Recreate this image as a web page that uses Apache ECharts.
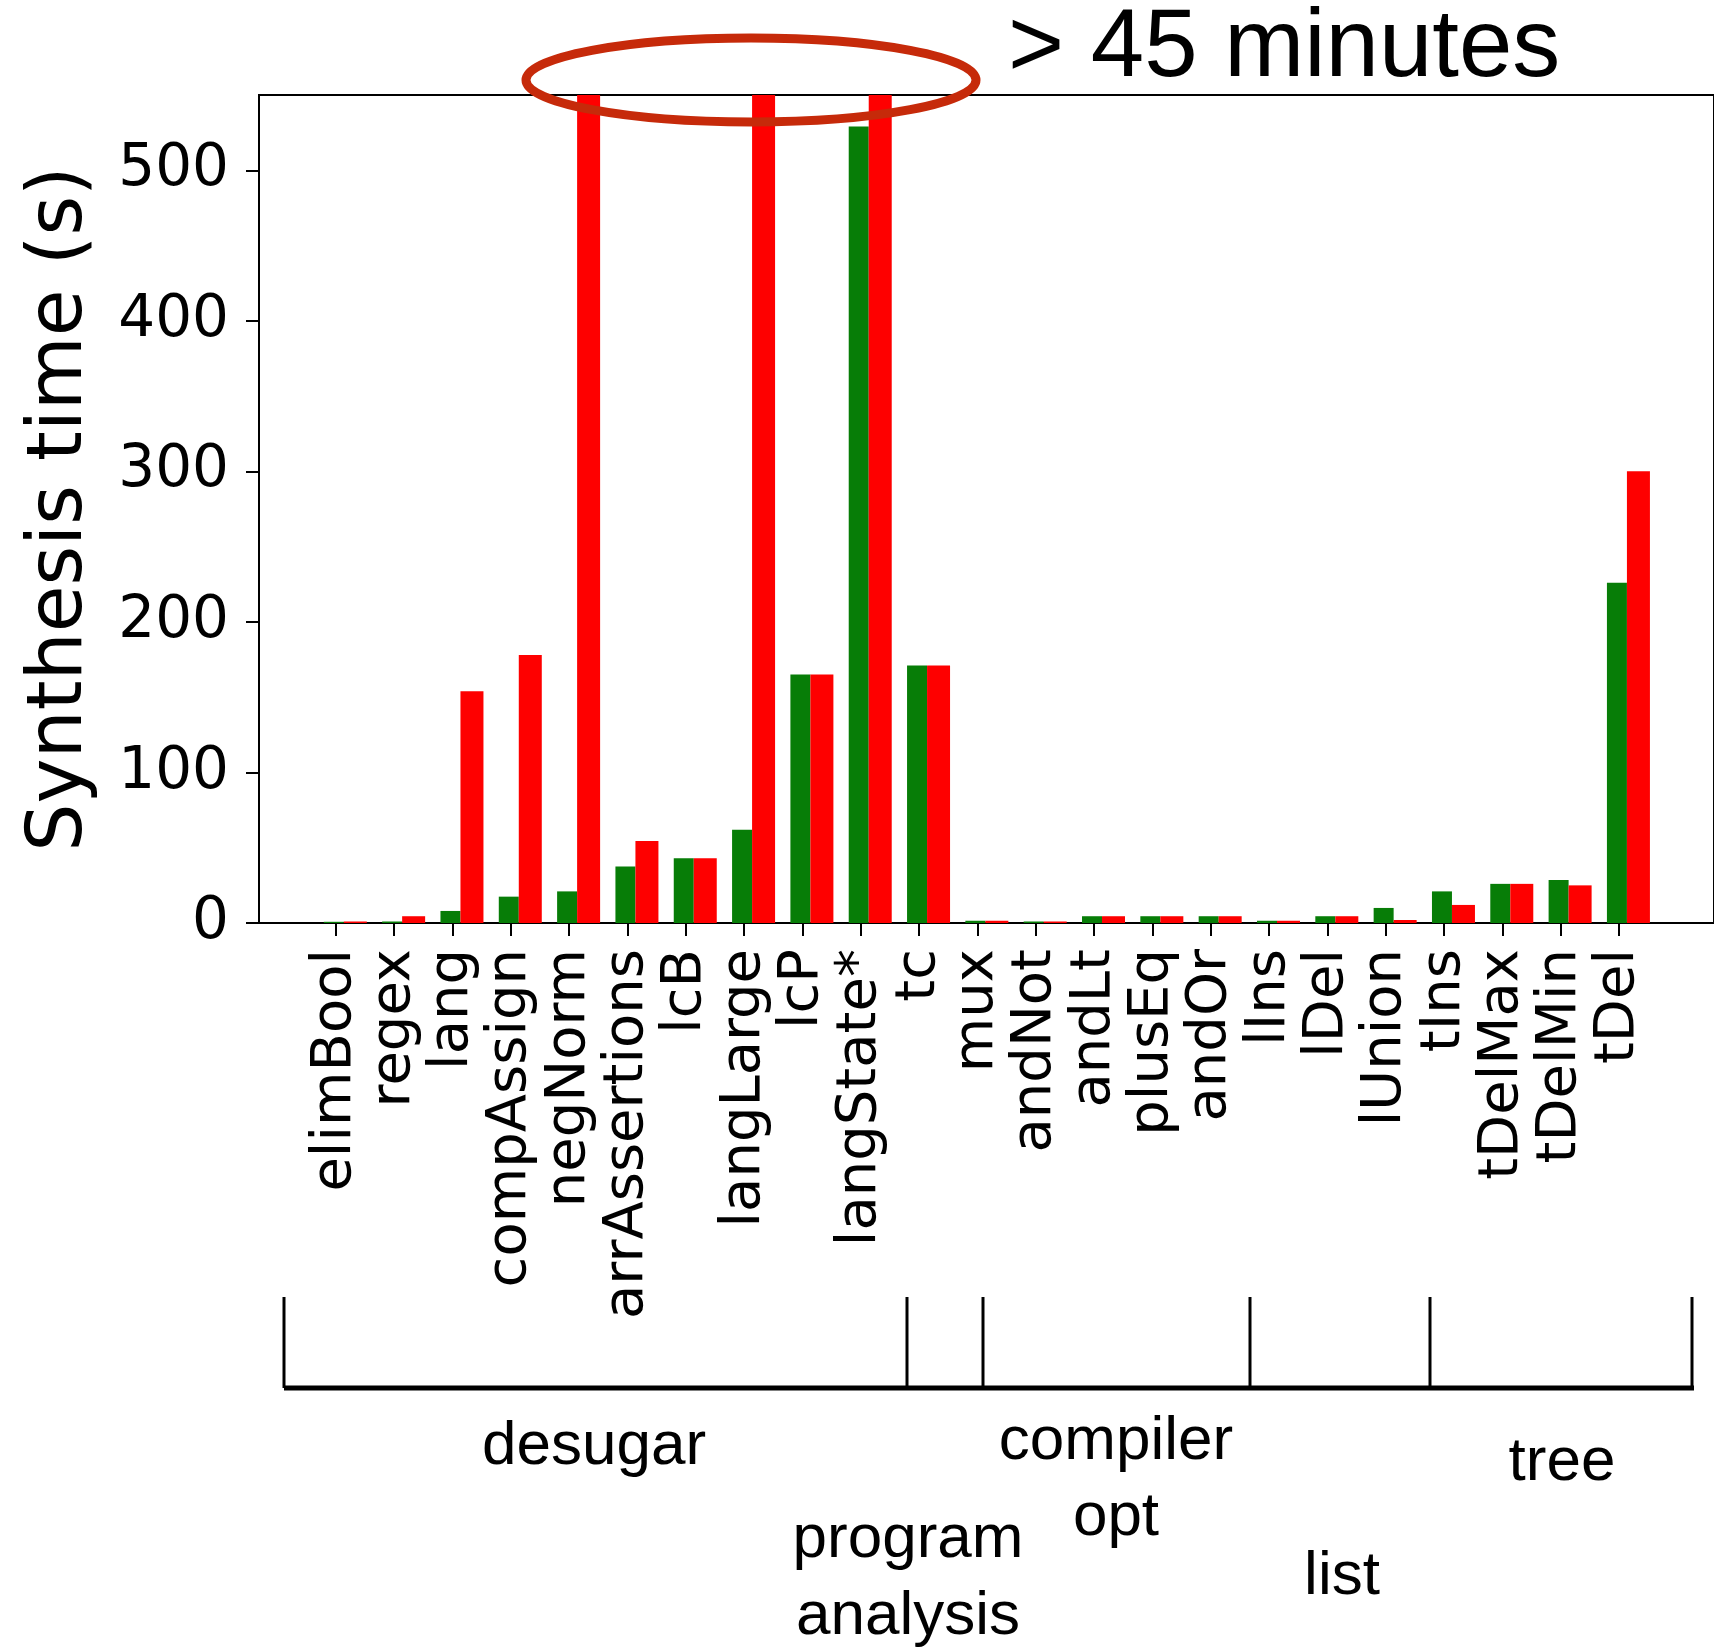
<!DOCTYPE html>
<html>
<head>
<meta charset="utf-8">
<title>Synthesis time</title>
<script src="https://cdn.jsdelivr.net/npm/echarts@6/dist/echarts.min.js"></script>
<style>
  html, body { margin: 0; padding: 0; background: #fff; }
  #chart { width: 1714px; height: 1650px; }
</style>
</head>
<body>
<div id="chart"></div>
<script>
// benchmarks, left to right
var categories = ["elimBool", "regex", "lang", "compAssign", "negNorm", "arrAssertions", "lcB", "langLarge",
	"lcP", "langState*", "tc", "mux", "andNot", "andLt", "plusEq", "andOr", "lIns", "lDel", "lUnion",
	"tIns", "tDelMax", "tDelMin", "tDel"];
// green bars (s)
var greenTimes = [0.8, 1, 8, 17.5, 21, 37.5, 43, 62, 165, 529, 171, 1.5, 1, 4.5, 4.5, 4.5, 1.5, 4.5, 10,
	21, 26, 28.5, 226];
// red bars (s), 2700 = timeout (> 45 minutes)
var redTimes = [1, 4.5, 154, 178, 2700, 54.5, 43, 2700, 165, 2700, 171, 1.5, 1, 4.5, 4.5, 4.5, 1.5, 4.5, 2,
	12, 26, 25, 300];
// y axis ticks
var yTicks = [0, 100, 200, 300, 400, 500];
var yMax = 550;
// benchmark groups under the axis
var groupLabels = ["desugar", "program\nanalysis", "compiler\nopt", "list", "tree"];
var timeoutNote = "> 45 minutes";

var catIndex = categories.map(function(c, i){ return i; });
function pairs(vals){
	return vals.map(function(v, i){ return [i, v]; });
}

var chart = echarts.init(document.getElementById('chart'));

var tickFont = "'DejaVu Sans', sans-serif";
var noteFont = "'Liberation Sans', Arial, sans-serif";

var option = {
	backgroundColor: '#fff',
	animation: false,
	grid: {left: 259, top: 95, right: -3, bottom: 727, show: true, borderColor: '#000', borderWidth: 2},
	xAxis: {
		type: 'value',
		min: -1.317,
		max: 23.63,
		splitLine: {show: false},
		axisLine: {show: true, onZero: false, lineStyle: {color: '#000', width: 2}},
		axisTick: {show: true, customValues: catIndex, length: 13, lineStyle: {color: '#000', width: 2}},
		axisLabel: {
			customValues: catIndex,
			rotate: 90,
			margin: 26,
			fontSize: 56,
			fontFamily: tickFont,
			color: '#000',
			formatter: function(v){ return categories[Math.round(v)]; }
		}
	},
	yAxis: {
		type: 'value',
		min: 0,
		max: yMax,
		name: 'Synthesis time (s)',
		nameLocation: 'middle',
		nameGap: 160,
		nameTextStyle: {fontSize: 76, fontFamily: tickFont, color: '#000'},
		splitLine: {show: false},
		axisLine: {show: true, onZero: false, lineStyle: {color: '#000', width: 2}},
		axisTick: {show: true, customValues: yTicks, length: 13, lineStyle: {color: '#000', width: 2}},
		axisLabel: {customValues: yTicks, margin: 30, fontSize: 58, fontFamily: tickFont, color: '#000'}
	},
	series: [
		// empty slot on the left so the ticks sit under the green bars
		{type: 'bar', barWidth: 19, barGap: '0%', silent: true, data: pairs(greenTimes.map(function(){ return 0; })),
			itemStyle: {color: 'rgba(0,0,0,0)'}},
		{type: 'bar', barWidth: 20, barGap: '0%', data: pairs(greenTimes), itemStyle: {color: '#077d07'}},
		{type: 'bar', barWidth: 23, barGap: '0%', data: pairs(redTimes), itemStyle: {color: '#fe0000'}}
	],
	graphic: [
		// timeout ellipse + note
		{type: 'ellipse', z: 100, shape: {cx: 751, cy: 80, rx: 225, ry: 42},
			style: {fill: 'none', stroke: '#c62a0a', lineWidth: 9}},
		{type: 'text', z: 100, style: {text: timeoutNote, x: 1008, y: 50, textAlign: 'left', textVerticalAlign: 'middle',
			font: '96px ' + noteFont, fill: '#000'}},
		// group bracket
		{type: 'line', shape: {x1: 284, y1: 1388, x2: 1694, y2: 1388}, style: {stroke: '#000', lineWidth: 5}},
		{type: 'line', shape: {x1: 284, y1: 1297, x2: 284, y2: 1388}, style: {stroke: '#000', lineWidth: 3}},
		{type: 'line', shape: {x1: 907, y1: 1297, x2: 907, y2: 1388}, style: {stroke: '#000', lineWidth: 3}},
		{type: 'line', shape: {x1: 983, y1: 1297, x2: 983, y2: 1388}, style: {stroke: '#000', lineWidth: 3}},
		{type: 'line', shape: {x1: 1250, y1: 1297, x2: 1250, y2: 1388}, style: {stroke: '#000', lineWidth: 3}},
		{type: 'line', shape: {x1: 1430, y1: 1297, x2: 1430, y2: 1388}, style: {stroke: '#000', lineWidth: 3}},
		{type: 'line', shape: {x1: 1692, y1: 1297, x2: 1692, y2: 1388}, style: {stroke: '#000', lineWidth: 3}},
		// group names
		{type: 'text', style: {text: groupLabels[0], x: 594, y: 1447, textAlign: 'center', textVerticalAlign: 'middle',
			font: '62px ' + noteFont, fill: '#000'}},
		{type: 'text', style: {text: groupLabels[1], x: 908, y: 1578, textAlign: 'center', textVerticalAlign: 'middle',
			font: '62px ' + noteFont, lineHeight: 77, fill: '#000'}},
		{type: 'text', style: {text: groupLabels[2], x: 1116, y: 1480, textAlign: 'center', textVerticalAlign: 'middle',
			font: '62px ' + noteFont, lineHeight: 76, fill: '#000'}},
		{type: 'text', style: {text: groupLabels[3], x: 1342, y: 1577, textAlign: 'center', textVerticalAlign: 'middle',
			font: '62px ' + noteFont, fill: '#000'}},
		{type: 'text', style: {text: groupLabels[4], x: 1562, y: 1463, textAlign: 'center', textVerticalAlign: 'middle',
			font: '62px ' + noteFont, fill: '#000'}}
	]
};
chart.setOption(option);
</script>
</body>
</html>
